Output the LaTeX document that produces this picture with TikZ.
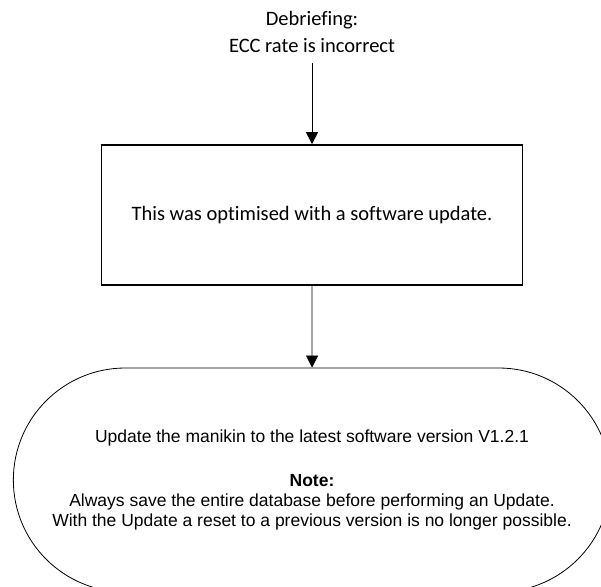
\documentclass[tikz,border=0pt]{standalone}
\usepackage{fontspec}
\setmainfont{Carlito}[Ligatures=NoCommon]
\newfontfamily\arialfont{Liberation Sans}
\usetikzlibrary{arrows.meta,shapes.misc}

\begin{document}
\begin{tikzpicture}[x=1pt, y=-1pt,
	flow/.style={draw, line width=0.8pt, -{Triangle[width=12pt,length=12pt]}},
	stepbox/.style={draw, line width=1.7pt, minimum width=421pt, minimum height=140pt,
		font=\fontsize{20.5}{25}\selectfont},
	endbox/.style={draw, line width=0.8pt, rounded rectangle, minimum width=604pt,
		minimum height=224pt, align=center, font=\arialfont\fontsize{17.5}{20}\selectfont}]
	% Frame of the page, the end shape runs over it
	\useasboundingbox (0,0) rectangle (601,586);
	\clip (0,0) rectangle (601,586);

	% Nodes
	\node (debrief) at (312,32) [align=center, inner sep=10pt,
		font=\fontsize{20.5}{27}\selectfont] {Debriefing:\\ECC rate is incorrect};
	\node (fix) at (312,215) [stepbox] {This was optimised with a software update.};
	\node (update) at (312,480) [endbox] {Update the manikin to the latest software version V1.2.1\\[23.5pt]
		\textbf{Note:}\\
		Always save the entire database before performing an Update.\\
		With the Update a reset to a previous version is no longer possible.};

	% Arrows
	\draw[flow] (debrief) -- (fix);
	\draw[flow] (fix) -- (update);
\end{tikzpicture}
\end{document}
